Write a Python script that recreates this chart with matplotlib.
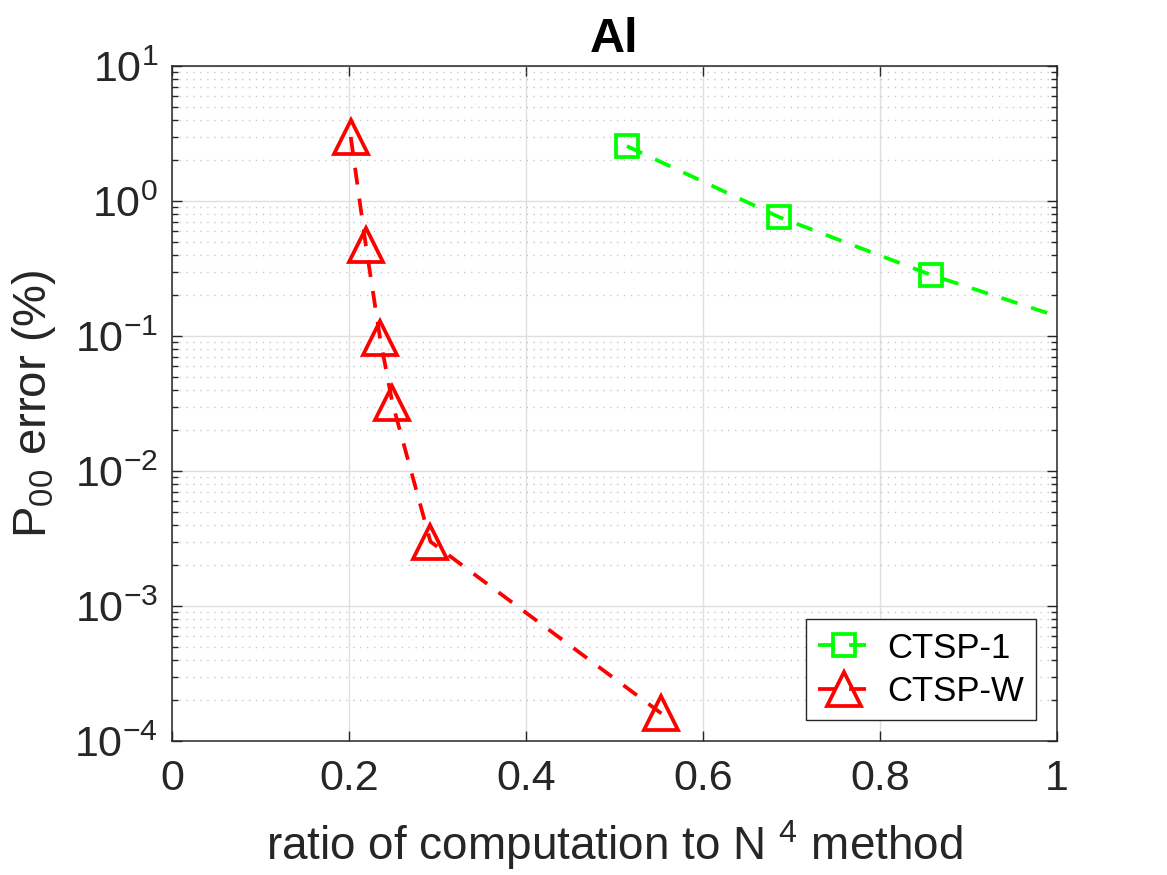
import numpy as np
import matplotlib
matplotlib.use('Agg')
import matplotlib.pyplot as plt
from matplotlib.ticker import LogLocator, NullFormatter

# data
ctsp1_x = [0.514, 0.686, 0.858, 1.03]
ctsp1_y = [2.55, 0.76, 0.283, 0.121]
ctspw_x = [0.202, 0.219, 0.235, 0.249, 0.292, 0.553]
ctspw_y = [2.98, 0.47, 0.097, 0.032, 0.0030, 1.6e-4]
labels = ['CTSP-1', 'CTSP-W']
xticks = [0, 0.2, 0.4, 0.6, 0.8, 1]
xticklabels = ['0', '0.2', '0.4', '0.6', '0.8', '1']

# matlab-ish look
plt.rcParams['font.family'] = ['Liberation Sans', 'DejaVu Sans']
plt.rcParams['mathtext.fontset'] = 'custom'
plt.rcParams['mathtext.rm'] = 'Liberation Sans'
plt.rcParams['mathtext.it'] = 'Liberation Sans'
plt.rcParams['mathtext.bf'] = 'Liberation Sans:bold'
plt.rcParams['mathtext.default'] = 'regular'
plt.rcParams['axes.unicode_minus'] = False

dark = '#262626'

fig = plt.figure(figsize=(11.67, 8.75), dpi=100)
ax = fig.add_axes([0.1474, 0.1531, 0.7583, 0.7715])

ax.plot(ctsp1_x, ctsp1_y, color='#00ff00', ls='--', dashes=(4.5, 3.8), lw=2.7,
        marker='s', ms=16, mfc='none', mew=2.7, label=labels[0])
ax.plot(ctspw_x, ctspw_y, color='#ff0000', ls='--', dashes=(4.5, 3.8), lw=2.7,
        marker='^', ms=24, mfc='none', mew=2.7, label=labels[1])

ax.set_yscale('log')
ax.set_xlim(0, 1)
ax.set_ylim(1e-4, 1e1)
ax.set_xticks(xticks, xticklabels)
ax.yaxis.set_major_locator(LogLocator(base=10, numticks=10))
ax.yaxis.set_minor_locator(LogLocator(base=10, subs=np.arange(2, 10), numticks=100))
ax.yaxis.set_minor_formatter(NullFormatter())

# grids
ax.grid(True, which='major', color='#dfdfdf', lw=1.0, ls='-')
ax.grid(True, which='minor', axis='y', color='#c8c8c8', lw=1.0, ls=(0, (1, 4)))
ax.set_axisbelow(True)

for s in ax.spines.values():
    s.set_color(dark)
    s.set_linewidth(1.1)
ax.tick_params(which='both', direction='in', top=True, right=True, colors=dark,
               labelcolor=dark, labelsize=31)
ax.tick_params(which='major', length=7, width=1.0)
ax.tick_params(axis='x', which='major', pad=13)
ax.tick_params(axis='y', which='major', pad=10)
ax.tick_params(which='minor', length=4, width=1.0)

ax.set_title('Al', fontsize=35, fontweight='bold', pad=10)
ax.set_xlabel(r'ratio of computation to N $^{4}$ method', fontsize=33, color=dark, labelpad=14)
ax.set_ylabel(r'P$_{00}$ error (%)', fontsize=34, color=dark, labelpad=12)

leg = ax.legend(loc='lower right', fontsize=25, handlelength=1.5, handletextpad=0.5,
                borderaxespad=0.6, fancybox=False, framealpha=1, borderpad=0.35,
                labelspacing=0.3)
leg.get_frame().set_edgecolor(dark)
leg.get_frame().set_linewidth(1.0)

fig.savefig('out.png', dpi=100)
